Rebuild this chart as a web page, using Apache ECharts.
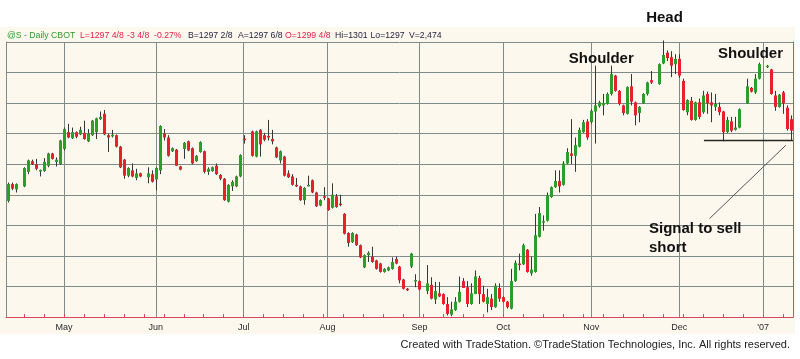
<!DOCTYPE html>
<html>
<head>
<meta charset="utf-8">
<script src="https://cdn.jsdelivr.net/npm/echarts@6/dist/echarts.min.js"></script>
<style>
html,body{margin:0;padding:0;background:#ffffff;}
#chart{width:800px;height:359px;}
</style>
</head>
<body>
<div id="chart"></div>
<script>
// ---- categories: every weekday from 11 Apr 2006 to 10 Jan 2007 (holidays are empty slots)
const firstDay = '2006-04-11';
const lastDay = '2007-01-10';
const monthNames = ['Jan','Feb','Mar','Apr','May','Jun','Jul','Aug','Sep','Oct','Nov','Dec'];
const yearLabel = "'07";

// ---- OHLC bars [open, close, low, high]; null = no trading that day
const aprBars = [
  [1256,1267,1255,1268],[1267,1264,1263,1268],[1263.5,1267,1261.5,1267.5],null,
  [1265.5,1277.5,1265,1278],[1275,1282.5,1273.5,1283],[1282,1280,1279.5,1283],[1280,1277,1276,1283.5],
  [1275.5,1276,1272,1276.5],[1275.5,1281.5,1275,1284],[1279,1287,1278,1287.5],[1287,1283.5,1283,1287.5],
  [1281.5,1283,1278.5,1284.5],[1280,1295.5,1279.5,1296]
];
const mayBars = [
  [1290,1303,1289,1304],[1301,1297.5,1297,1306.5],[1297,1301,1296.5,1304],[1301,1298,1297,1301.5],
  [1299.5,1302.5,1299,1304.5],[1300.5,1296.5,1296,1308.5],[1295,1300,1294.5,1303],[1299,1308.5,1298.5,1309],
  [1301,1310,1296.5,1310.5],[1309.5,1311,1309,1314.5],[1313,1299.5,1299,1315.5],[1299,1297.5,1288,1300],
  [1298.5,1299,1297.5,1302.5],[1299,1291.5,1291,1299.5],[1291.5,1278,1277.5,1292],[1283,1272.5,1270.5,1283.5],
  [1272.5,1277.5,1271.5,1278],[1276,1272,1271.5,1280.5],[1271,1274,1269.5,1277],[1274,1272,1271.5,1274.5],
  null,[1271.5,1274,1267.5,1278],[1273.5,1268.5,1268,1276]
];
const junBars = [
  [1270,1277.5,1263,1278],[1276,1305,1273.5,1305.5],[1300,1297.5,1295.5,1303],[1297.5,1285.5,1285,1299],
  [1288.5,1290.5,1288,1291],[1289.5,1279,1279,1290],[1278.5,1276.5,1276,1279],[1290,1294,1283.5,1294.5],
  [1295,1289,1288.5,1295.5],[1290.5,1280.5,1280,1291],[1282,1285.5,1281.5,1286],[1288,1294.5,1287.5,1295],
  [1288.5,1275,1274,1289],[1275,1277,1273,1278],[1275.5,1278,1275,1278.5],[1279,1273.5,1273,1280.5],
  [1273,1270.5,1269.5,1273.5],[1270.5,1256.5,1256,1271],[1255.5,1266.5,1255,1267],[1265.5,1268.5,1262.5,1269.5],
  [1265.5,1272,1265,1272.5],[1272,1286,1271.5,1286.5]
];
const julBars = [
  [1296.5,1296,1293.5,1299],null,[1301.5,1285.5,1285,1302],[1285,1301.5,1284.5,1302],
  [1302.5,1293,1285,1303],[1299,1296,1295,1300.5],[1298.5,1297.5,1295.5,1309],[1296.5,1295,1293,1302.5],
  [1291,1284.5,1284,1291.5],[1282.5,1288.5,1280.5,1289],[1285,1272.5,1272,1285.5],[1274,1271.5,1271,1276],
  [1272,1266.5,1266,1273.5],[1266.5,1265.5,1265,1271],[1265.5,1256.5,1256,1266],[1256.5,1264.5,1253.5,1265],
  [1265.5,1266.5,1265.5,1272.5],[1269.5,1261.5,1261,1270],[1261.5,1252.5,1252,1262],[1253,1256.5,1252.5,1257],
  [1259,1258,1256.5,1265]
];
const augBars = [
  [1257.5,1250,1249.5,1258],[1251.5,1260,1251,1267.5],[1259,1252,1251.5,1260.5],[1254,1253.5,1252.5,1260],
  [1247.5,1234.5,1234,1248],[1235,1228.5,1226,1235.5],[1229,1235,1228.5,1235.5],[1234,1227,1226.5,1234.5],
  [1227,1219,1218.5,1227.5],[1212.5,1220.5,1212,1221],[1220.5,1222,1216,1223],[1219.5,1216,1215.5,1226],
  [1217,1211.5,1211,1217.5],[1215,1209.5,1209,1215.5],[1209.5,1211.5,1209,1212],[1210.5,1212.5,1210,1213],
  [1211.5,1216,1211,1219],[1218,1215,1214.5,1219.5],[1213,1204,1202,1213.5],[1204.5,1198.5,1198,1205],
  [1198.5,1197.5,1197,1199],[1213,1221.5,1212,1222],[1203.5,1204,1199.5,1208]
];
const sepBars = [
  [1203.5,1198,1197.5,1204],null,[1197,1202,1195,1214],[1201,1192,1191.5,1206],
  [1191.5,1197,1188.5,1203],[1195.5,1193.5,1193,1203],[1195,1188.5,1188,1195.5],[1188.5,1182,1181,1193],
  [1181.5,1185,1180.5,1190],[1184.5,1190,1184,1193],[1190,1196.5,1189.5,1206.5],[1203.5,1199,1199,1205.5],
  [1199.5,1188.5,1186.5,1203.5],[1188.5,1195.5,1188,1202],[1195,1206.5,1195,1210.5],[1205.5,1195,1188.5,1207],
  [1195,1190,1189.5,1200.5],[1188.5,1193,1183,1198.5],[1192,1186.5,1184.5,1195],[1186.5,1200.5,1186,1202],
  [1199,1192,1190,1202]
];
const octBars = [
  [1193,1190,1189.5,1193.5],[1190,1186.5,1185.5,1190.5],[1185.5,1203.5,1185,1211.5],[1203.5,1215.5,1203,1217],
  [1215,1214,1210.5,1221.5],[1214.5,1227,1214,1228],[1224,1209.5,1209,1224.5],[1208.5,1211,1207,1219.5],
  [1209.5,1233.5,1209,1247.5],[1232.5,1248,1232,1252],[1242,1242.5,1236.5,1246.5],[1243,1259.5,1242.5,1261.5],
  [1258.5,1265,1258,1265.5],[1265,1269,1264.5,1276],[1269,1265.5,1261.5,1276],[1266.5,1280.5,1266,1282],
  [1280.5,1288,1280,1290.5],[1287,1285.5,1280,1309.5],[1285.5,1292.5,1275,1297.5],[1291.5,1302.5,1291,1304],
  [1301,1307.5,1300.5,1309],[1308,1297.5,1296,1309.5]
];
const novBars = [
  [1307.5,1315,1306.5,1316],[1314.5,1318.5,1293.5,1344.5],[1318,1320.5,1317,1321.5],[1318.5,1320,1312,1326],
  [1319.5,1326,1319,1327],[1326,1339,1325,1344.5],[1338,1328,1327.5,1338.5],[1328,1319.5,1318.5,1328.5],
  [1318.5,1313.5,1312,1319],[1313,1330.5,1312.5,1331],[1331,1321,1318.5,1339],[1320.5,1312,1305.5,1321],
  [1313.5,1317.5,1307.5,1318],[1320,1326,1319.5,1326.5],[1326,1333.5,1325,1334],[1335,1333.5,1332.5,1341],
  null,[1332.5,1345.5,1332,1346],[1346,1351.5,1345.5,1361],[1353,1349.5,1347.5,1354.5],
  [1350,1344.5,1337,1354],[1345.5,1349,1339,1352]
];
const decBars = [
  [1349,1338,1336.5,1352],[1334.5,1315.5,1315,1336],[1314,1322,1312,1322.5],[1321.5,1309,1308.5,1324],
  [1309,1320.5,1308.5,1321],[1320.5,1311,1309.5,1323],[1314,1325,1313,1328],[1326,1320,1313,1327.5],
  [1320.5,1318.5,1307.5,1327],[1317.5,1319.5,1315,1326],[1317.5,1314,1312,1320.5],[1314.5,1301,1295,1315],
  [1301,1309,1300.5,1311],[1308,1302,1301,1311],[1302.5,1304,1302,1311],[1304,1316,1303.5,1316.5],
  null,[1320,1331,1319.5,1336],[1330,1327.5,1327,1330.5],[1327,1336,1326,1339],[1336,1345.5,1335.5,1346.5]
];
const janBars = [
  null,[1343.5,1344.5,1343,1345],[1342,1326,1325.5,1342.5],[1325,1317.5,1315,1328],
  [1317.5,1325.5,1317,1326],[1327,1320,1313,1328],[1317,1303,1302,1318.5],[1309.5,1302,1295.5,1312]
];

// ---- annotation anchors (category index, price)
const necklineLevel = 1295.5;
const necklineStart = 174.2;
const pointerFrom = [175.6, 1244.4];
const pointerTo = [194.7, 1292.4];

// ---- header tokens [text, colour, left x]
const headerTokens = [
  ['@S - Daily CBOT', '#2e9b2e', 7],
  ['L=1297 4/8', '#e0204c', 80],
  ['-3 4/8', '#e0204c', 127],
  ['-0.27%', '#e0204c', 154],
  ['B=1297 2/8', '#1d1d3a', 188],
  ['A=1297 6/8', '#1d1d3a', 238],
  ['O=1299 4/8', '#e0204c', 285],
  ['Hi=1301', '#1d1d3a', 335],
  ['Lo=1297', '#1d1d3a', 370.5],
  ['V=2,474', '#1d1d3a', 409]
];

// ---------------------------------------------------------------
const cats = [];
const monthStart = new Set();
const mondays = new Set();
(function(){
  const d = new Date(firstDay + 'T12:00:00');
  const end = new Date(lastDay + 'T12:00:00');
  let prevMonth = -1;
  while (d <= end) {
    const wd = d.getDay();
    if (wd !== 0 && wd !== 6) {
      const idx = cats.length;
      const s = d.getFullYear() + '-' + String(d.getMonth()+1).padStart(2,'0') + '-' + String(d.getDate()).padStart(2,'0');
      cats.push(s);
      if (prevMonth !== -1 && d.getMonth() !== prevMonth) monthStart.add(idx);
      if (wd === 1) mondays.add(idx);
      prevMonth = d.getMonth();
    }
    d.setDate(d.getDate() + 1);
  }
})();

const bars = [].concat(aprBars, mayBars, junBars, julBars, augBars, sepBars, octBars, novBars, decBars, janBars);
const seriesData = [];
bars.forEach((b, i) => { if (b) seriesData.push([i, b[0], b[1], b[2], b[3]]); });

const UP = '#2aa02a', DOWN = '#e8202c', WICK = '#363636';
const GRIDC = '#7f8b8b', REDLINE = '#e0455e', CREAM = '#fdf8ee';

const chart = echarts.init(document.getElementById('chart'), null, {renderer: 'canvas'});

const option = {
  backgroundColor: '#ffffff',
  animation: false,
  grid: {left: 6, right: 7, top: 42, bottom: 42, show: false},
  xAxis: {
    type: 'category',
    data: cats,
    boundaryGap: true,
    axisLine: {show: true, lineStyle: {color: REDLINE, width: 1}},
    axisTick: {show: true, inside: true, length: 3, alignWithLabel: true,
      interval: (i) => mondays.has(i), lineStyle: {color: REDLINE}},
    axisLabel: {show: true, interval: (i) => monthStart.has(i), margin: 6,
      fontSize: 9, color: '#2a2a2a', fontFamily: '"Liberation Sans", Arial, sans-serif',
      formatter: (v) => { const m = parseInt(v.slice(5,7),10) - 1; return m === 0 ? yearLabel : monthNames[m]; }},
    splitLine: {show: true, alignWithLabel: true, interval: (i) => monthStart.has(i),
      lineStyle: {color: GRIDC, width: 1}}
  },
  yAxis: [{
    type: 'value', min: 1180, max: 1360, interval: 20, scale: true,
    axisLabel: {show: false}, axisTick: {show: false},
    axisLine: {show: true, lineStyle: {color: GRIDC}},
    splitLine: {show: true, lineStyle: {color: GRIDC, width: 1}}
  }, {
    type: 'value', position: 'right', min: 1180, max: 1360, interval: 20,
    axisLabel: {show: false}, axisTick: {show: false},
    axisLine: {show: true, lineStyle: {color: REDLINE}},
    splitLine: {show: false}
  }],
  series: [{
    type: 'custom',
    clip: false,
    data: seriesData,
    encode: {x: 0, y: [1, 2, 3, 4]},
    renderItem: function (params, api) {
      const k = api.value(0);
      const o = api.value(1), c = api.value(2), l = api.value(3), h = api.value(4);
      const pO = api.coord([k, o]), pC = api.coord([k, c]);
      const pL = api.coord([k, l]), pH = api.coord([k, h]);
      const cx = Math.round(pO[0]);
      const w = 3;
      const top = Math.min(pO[1], pC[1]);
      let hgt = Math.abs(pO[1] - pC[1]);
      let y0 = top;
      if (hgt < 1.5) { y0 = top - (1.5 - hgt) / 2; hgt = 1.5; }
      return {
        type: 'group',
        children: [
          {type: 'line', shape: {x1: cx + 0.5, y1: pH[1], x2: cx + 0.5, y2: pL[1]},
           style: {stroke: WICK, lineWidth: 1}},
          {type: 'rect', shape: {x: cx - 1, y: y0, width: w, height: hgt},
           style: {fill: c >= o ? UP : DOWN}}
        ]
      };
    }
  }]
};
chart.setOption(option);

// annotation positions via the chart's own scales
const x0 = chart.convertToPixel({xAxisIndex: 0}, 0);
const xN = chart.convertToPixel({xAxisIndex: 0}, cats.length - 1);
const xAt = (k) => x0 + (xN - x0) * k / (cats.length - 1);
const yAt = (p) => chart.convertToPixel({yAxisIndex: 0}, p);
const gridRight = 800 - 7;

const FONT = '"Liberation Sans", Arial, sans-serif';
const graphics = [
  {type: 'rect', z: -100, silent: true, shape: {x: 0, y: 27, width: 795, height: 307}, style: {fill: CREAM}},
  {type: 'line', z: 10, shape: {x1: xAt(necklineStart), y1: yAt(necklineLevel), x2: gridRight, y2: yAt(necklineLevel)},
   style: {stroke: '#262626', lineWidth: 1.5}},
  {type: 'line', z: 10, shape: {x1: xAt(pointerFrom[0]), y1: yAt(pointerFrom[1]), x2: xAt(pointerTo[0]), y2: yAt(pointerTo[1])},
   style: {stroke: '#555', lineWidth: 1}},
  {type: 'text', z: 10, style: {text: 'Head', x: 664.5, y: 25, textAlign: 'center', verticalAlign: 'bottom',
    font: 'bold 15px ' + FONT, fill: '#111'}},
  {type: 'text', z: 10, style: {text: 'Shoulder', x: 601.3, y: 66, textAlign: 'center', verticalAlign: 'bottom',
    font: 'bold 15px ' + FONT, fill: '#111'}},
  {type: 'text', z: 10, style: {text: 'Shoulder', x: 750.5, y: 61.5, textAlign: 'center', verticalAlign: 'bottom',
    font: 'bold 15px ' + FONT, fill: '#111'}},
  {type: 'text', z: 10, style: {text: 'Signal to sell\nshort', x: 649, y: 219, textAlign: 'left', verticalAlign: 'top',
    font: 'bold 15px ' + FONT, fill: '#111', lineHeight: 19}},
  {type: 'text', z: 10, style: {text: 'Created with TradeStation. \u00A9TradeStation Technologies, Inc. All rights reserved.',
    x: 790, y: 344.5, textAlign: 'right', verticalAlign: 'middle', font: '11px ' + FONT, fill: '#222'}}
];
headerTokens.forEach(t => {
  graphics.push({type: 'text', z: 10, style: {text: t[0], x: t[2], y: 35.5, textAlign: 'left', verticalAlign: 'middle',
    font: '8.7px ' + FONT, fill: t[1]}});
});
chart.setOption({graphic: graphics});
</script>
</body>
</html>
